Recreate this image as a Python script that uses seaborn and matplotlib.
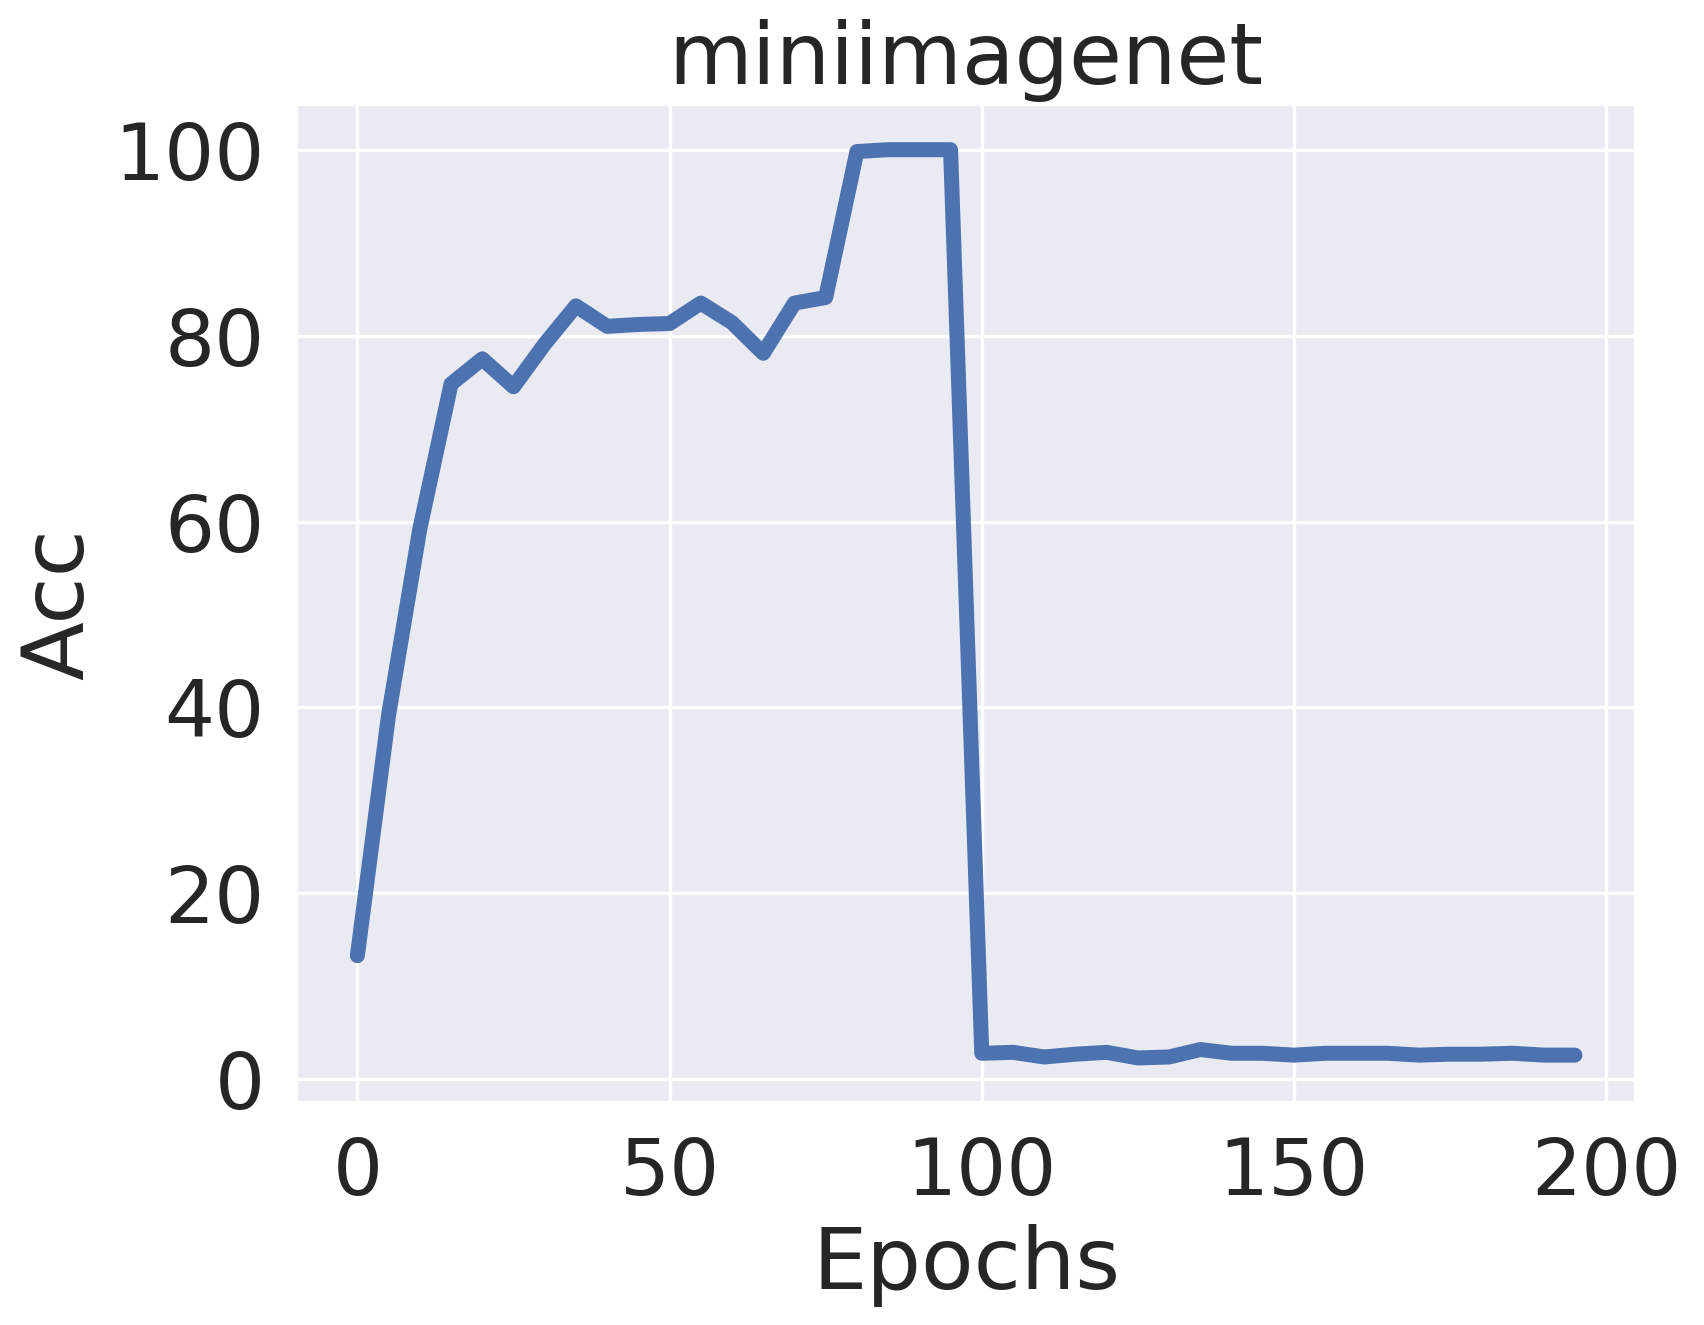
import numpy as np
import pandas as pd
import matplotlib
matplotlib.use("Agg")
import matplotlib.pyplot as plt
import seaborn as sns

epochs = list(range(0, 200, 5))
acc = [13.3, 39.2, 59.2, 74.8, 77.5, 74.5, 79.1, 83.2, 81.0, 81.2,
       81.3, 83.5, 81.4, 78.1, 83.5, 84.1, 99.8, 100.0, 100.0, 100.0,
       2.8, 2.9, 2.4, 2.7, 2.9, 2.3, 2.4, 3.2, 2.8, 2.8,
       2.6, 2.8, 2.8, 2.8, 2.6, 2.7, 2.7, 2.8, 2.6, 2.6]

df = pd.DataFrame({"Epochs": epochs, "Acc": acc})

sns.set_theme(style="darkgrid", font_scale=2.15)

DPI = 240
fig = plt.figure(figsize=(1704 / DPI, 1325 / DPI), dpi=DPI)
left, right, bottom, top = 0.174, 0.960, 0.1673, 0.9213
ax = fig.add_axes([left, bottom, right - left, top - bottom])
sns.lineplot(data=df, x="Epochs", y="Acc", ax=ax, linewidth=4.5, color="#4c72b0",
             solid_capstyle="round", solid_joinstyle="round")
ax.set_title("miniimagenet")
ax.set_xlabel("Epochs")
ax.set_ylabel("Acc")
fig.savefig("out.png", dpi=DPI)
